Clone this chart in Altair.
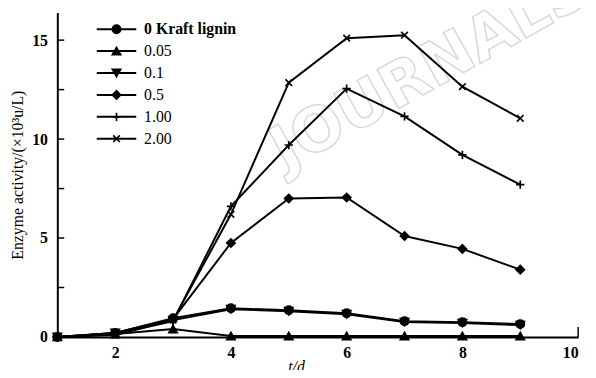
import altair as alt
import pandas as pd

t = [1, 2, 3, 4, 5, 6, 7, 8, 9]
series_names = ["0 Kraft lignin", "0.05", "0.1", "0.5", "1.00", "2.00"]
s0 = [0, 0.2, 0.95, 1.45, 1.35, 1.2, 0.8, 0.75, 0.65]
s005 = [0, 0.15, 0.4, 0.05, 0.05, 0.05, 0.05, 0.05, 0.05]
s01 = [0, 0.2, 0.85, 1.4, 1.3, 1.15, 0.75, 0.7, 0.6]
s05 = [0, 0.2, 0.9, 4.75, 7.0, 7.05, 5.1, 4.45, 3.4]
s1 = [0, 0.15, 0.8, 6.6, 9.7, 12.55, 11.15, 9.2, 7.7]
s2 = [0, 0.1, 0.85, 6.2, 12.85, 15.1, 15.25, 12.65, 11.05]
values = [s0, s005, s01, s05, s1, s2]
y_ticks = [0, 2.5, 5, 7.5, 10, 12.5, 15]
y_labels = [0, 5, 10, 15]
x_labels = [2, 4, 6, 8, 10]

rows = []
for name, vals in zip(series_names, values):
    for ti, v in zip(t, vals):
        rows.append({"t": ti, "v": v, "series": name})
df = pd.DataFrame(rows)
legend_df = pd.DataFrame({"series": series_names, "i": list(range(len(series_names)))})

plot_shapes = ["circle", "triangle-up", "triangle-down", "diamond",
               "M0,-1V1M-1,0H1", "M-0.8,-0.8L0.8,0.8M-0.8,0.8L0.8,-0.8"]
shape_scale = alt.Scale(domain=series_names, range=plot_shapes)

FONT = "Liberation Serif"
xs = alt.Scale(domain=[1, 10], nice=False)
ys = alt.Scale(domain=[0, 16.4], nice=False)

base = alt.Chart(df)

watermark = alt.Chart(pd.DataFrame({"w": ["JOURNALS"]})).mark_text(
    font="DejaVu Sans", fontWeight="bold", fontSize=62, angle=331,
    fill="white", stroke="#d6d6d6", strokeWidth=1.4
).encode(text="w:N", x=alt.value(378), y=alt.value(58))

lines = base.mark_line(color="black", strokeWidth=2).encode(
    x=alt.X("t:Q", scale=xs, axis=alt.Axis(values=x_labels, format="d", title="t/d", ticks=False,
            labelPadding=8, titleFontStyle="italic", titleFontWeight="normal",
            titleX=242, titlePadding=-2, grid=False)),
    y=alt.Y("v:Q", scale=ys, axis=alt.Axis(values=y_labels, title="Enzyme activity/(×10³u/L)",
            ticks=False, labelPadding=10, titleFontWeight="normal", titlePadding=6, grid=False)),
    detail="series:N",
)

points = base.mark_point(filled=True, color="black", fill="black", stroke="black",
                         size=70, strokeWidth=1.7, opacity=1).encode(
    x="t:Q", y="v:Q",
    shape=alt.Shape("series:N", scale=shape_scale, legend=None),
)

ytick_rules = alt.Chart(pd.DataFrame({"y": y_ticks})).mark_rule(color="black", strokeWidth=1.5).encode(
    y="y:Q", x=alt.value(0), x2=alt.value(7)
)
xend_tick = alt.Chart(pd.DataFrame({"x": [10]})).mark_rule(color="black", strokeWidth=1.5).encode(
    x="x:Q", y=alt.datum(0), y2=alt.datum(0.5)
)

main = alt.layer(watermark, lines, points, ytick_rules, xend_tick)

# manual legend
ly = alt.Y("i:Q", scale=alt.Scale(domain=[0, 5], range=[17, 128]), axis=None)
leg = alt.Chart(legend_df)
leg_lines = leg.mark_rule(color="black", strokeWidth=2).encode(
    y=ly, x=alt.value(40), x2=alt.value(80))
leg_pts = leg.mark_point(filled=True, color="black", fill="black", stroke="black",
                         size=70, strokeWidth=1.7, opacity=1).encode(
    y=ly, x=alt.value(60), shape=alt.Shape("series:N", scale=shape_scale, legend=None))
leg_text_bold = leg.transform_filter(alt.datum.i == 0).mark_text(
    font=FONT, fontSize=16, fontWeight="bold", align="left", baseline="middle", color="black"
).encode(y=ly, x=alt.value(88), text="series:N")
leg_text = leg.transform_filter(alt.datum.i > 0).mark_text(
    font=FONT, fontSize=16, align="left", baseline="middle", color="black"
).encode(y=ly, x=alt.value(88), text="series:N")
legend = alt.layer(leg_lines, leg_pts, leg_text_bold, leg_text)

chart = alt.layer(main, legend).resolve_scale(y="independent").properties(
    width=528, height=329,
    autosize=alt.AutoSizeParams(type="none"),
    padding={"left": 50, "top": 2, "right": 10, "bottom": 31},
).configure_view(stroke=None).configure_axis(
    domainColor="black", domainWidth=2, labelFont=FONT, labelFontSize=16, labelFontWeight="bold",
    labelColor="black", titleFont=FONT, titleFontSize=16, titleColor="black",
)

chart.save("out.html", embed_options={"renderer": "svg", "actions": False})
